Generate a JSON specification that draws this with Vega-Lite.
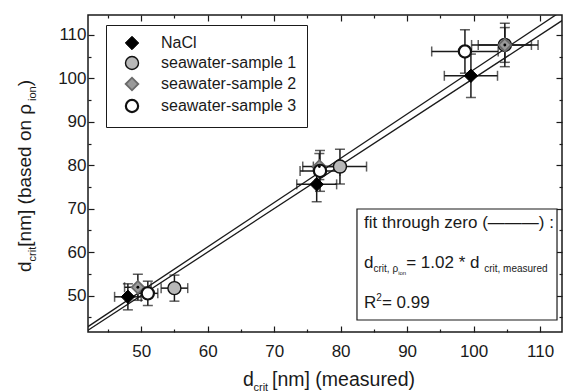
{
  "$schema": "https://vega.github.io/schema/vega-lite/v6.json",
  "autosize": {"type": "none"},
  "padding": {"left": 88, "top": 15, "right": 2, "bottom": 60},
  "width": 474,
  "height": 317,
  "datasets": {
    "pts": [
      {"series": "NaCl", "x": 48, "y": 49.7, "xlo": 46, "xhi": 50, "ylo": 46.7, "yhi": 52.7},
      {"series": "NaCl", "x": 76.4, "y": 75.6, "xlo": 73.4, "xhi": 79.4, "ylo": 71.6, "yhi": 79.6},
      {"series": "NaCl", "x": 99.6, "y": 100.6, "xlo": 95.6, "xhi": 103.6, "ylo": 95.6, "yhi": 105.6},
      {"series": "seawater-sample 1", "x": 55, "y": 51.7, "xlo": 53, "xhi": 57, "ylo": 48.7, "yhi": 54.7},
      {"series": "seawater-sample 1", "x": 79.9, "y": 79.7, "xlo": 75.9, "xhi": 83.9, "ylo": 75.7, "yhi": 83.7},
      {"series": "seawater-sample 1", "x": 104.7, "y": 107.7, "xlo": 99.7, "xhi": 109.7, "ylo": 102.7, "yhi": 112.7},
      {"series": "seawater-sample 2", "x": 49.5, "y": 51.9, "xlo": 47.5, "xhi": 51.5, "ylo": 48.9, "yhi": 54.9},
      {"series": "seawater-sample 2", "x": 76.8, "y": 79.7, "xlo": 74.3, "xhi": 79.3, "ylo": 76.7, "yhi": 82.7},
      {"series": "seawater-sample 2", "x": 104.7, "y": 107.7, "xlo": 100.7, "xhi": 108.7, "ylo": 103.7, "yhi": 111.7},
      {"series": "seawater-sample 3", "x": 51, "y": 50.5, "xlo": 49.5, "xhi": 52.5, "ylo": 47.7, "yhi": 53.3},
      {"series": "seawater-sample 3", "x": 76.9, "y": 78.7, "xlo": 73.9, "xhi": 79.9, "ylo": 74, "yhi": 83.4},
      {"series": "seawater-sample 3", "x": 98.7, "y": 106.2, "xlo": 93.7, "xhi": 103.7, "ylo": 101.2, "yhi": 111.2}
    ],
    "fits": [
      {"fit": "y = x", "x": 40, "y": 40},
      {"fit": "y = x", "x": 116, "y": 116},
      {"fit": "y = 1.02 x", "x": 40, "y": 40.8},
      {"fit": "y = 1.02 x", "x": 116, "y": 118.32}
    ]
  },
  "layer": [
    {
      "data": {"name": "fits"},
      "mark": {"type": "line", "clip": true, "color": "#1a1a1a", "strokeWidth": 1.3},
      "encoding": {
        "x": {"field": "x", "type": "quantitative", "scale": {"domain": [42, 113.3], "nice": false, "zero": false},
          "axis": {"orient": "top", "values": [45, 50, 55, 60, 65, 70, 75, 80, 85, 90, 95, 100, 105, 110], "labels": false, "title": null,
            "tickSize": {"condition": {"test": "datum.value % 10 === 0", "value": -6}, "value": -3}}},
        "y": {"field": "y", "type": "quantitative", "scale": {"domain": [41.6, 114.6], "nice": false, "zero": false},
          "axis": {"orient": "right", "values": [45, 50, 55, 60, 65, 70, 75, 80, 85, 90, 95, 100, 105, 110], "labels": false, "title": null,
            "tickSize": {"condition": {"test": "datum.value % 10 === 0", "value": -6}, "value": -3}}},
        "detail": {"field": "fit"}
      }
    },
    {
      "data": {"name": "pts"},
      "mark": {"type": "rule", "color": "#1a1a1a", "strokeWidth": 1.5},
      "encoding": {
        "x": {"field": "x", "type": "quantitative", "axis": null},
        "y": {"field": "ylo", "type": "quantitative", "axis": null},
        "y2": {"field": "yhi"}
      }
    },
    {
      "data": {"name": "pts"},
      "mark": {"type": "rule", "color": "#1a1a1a", "strokeWidth": 1.5},
      "encoding": {
        "y": {"field": "y", "type": "quantitative", "axis": null},
        "x": {"field": "xlo", "type": "quantitative", "axis": null},
        "x2": {"field": "xhi"}
      }
    },
    {
      "data": {"name": "pts"},
      "mark": {"type": "tick", "orient": "horizontal", "color": "#1a1a1a", "size": 10, "thickness": 1.5},
      "encoding": {
        "x": {"field": "x", "type": "quantitative", "axis": null},
        "y": {"field": "ylo", "type": "quantitative", "axis": null}
      }
    },
    {
      "data": {"name": "pts"},
      "mark": {"type": "tick", "orient": "horizontal", "color": "#1a1a1a", "size": 10, "thickness": 1.5},
      "encoding": {
        "x": {"field": "x", "type": "quantitative", "axis": null},
        "y": {"field": "yhi", "type": "quantitative", "axis": null}
      }
    },
    {
      "data": {"name": "pts"},
      "mark": {"type": "tick", "orient": "vertical", "color": "#1a1a1a", "size": 10, "thickness": 1.5},
      "encoding": {
        "x": {"field": "xlo", "type": "quantitative", "axis": null},
        "y": {"field": "y", "type": "quantitative", "axis": null}
      }
    },
    {
      "data": {"name": "pts"},
      "mark": {"type": "tick", "orient": "vertical", "color": "#1a1a1a", "size": 10, "thickness": 1.5},
      "encoding": {
        "x": {"field": "xhi", "type": "quantitative", "axis": null},
        "y": {"field": "y", "type": "quantitative", "axis": null}
      }
    },
    {
      "data": {"name": "pts"},
      "mark": {"type": "point", "filled": true, "opacity": 1},
      "encoding": {
        "x": {"field": "x", "type": "quantitative",
          "axis": {"orient": "bottom", "values": [45, 50, 55, 60, 65, 70, 75, 80, 85, 90, 95, 100, 105, 110], "title": null,
            "labelExpr": "datum.value % 10 === 0 ? datum.label : ''", "labelOverlap": false, "labelPadding": 17,
            "tickSize": {"condition": {"test": "datum.value % 10 === 0", "value": -6}, "value": -3}}},
        "y": {"field": "y", "type": "quantitative",
          "axis": {"orient": "left", "values": [45, 50, 55, 60, 65, 70, 75, 80, 85, 90, 95, 100, 105, 110], "title": null,
            "labelExpr": "datum.value % 10 === 0 ? datum.label : ''", "labelOverlap": false, "labelPadding": 8,
            "tickSize": {"condition": {"test": "datum.value % 10 === 0", "value": -6}, "value": -3}}},
        "color": {"field": "series", "type": "nominal",
          "scale": {"domain": ["NaCl", "seawater-sample 1", "seawater-sample 2", "seawater-sample 3"], "range": ["#000000", "#b8b8b8", "#9a9a9a", "#ffffff"]},
          "legend": {"orient": "none", "legendX": 18, "legendY": 10, "title": null,
            "encode": {"symbols": {"enter": {"size": {"signal": "datum.value === 'NaCl' ? 170 : datum.value === 'seawater-sample 2' ? 95 : 55"}}, "update": {"size": {"signal": "datum.value === 'NaCl' ? 170 : datum.value === 'seawater-sample 2' ? 95 : 55"}}}}}},
        "shape": {"field": "series", "type": "nominal",
          "scale": {"domain": ["NaCl", "seawater-sample 1", "seawater-sample 2", "seawater-sample 3"], "range": ["diamond", "circle", "diamond", "circle"]},
          "legend": {"orient": "none", "legendX": 18, "legendY": 10, "title": null,
            "encode": {"symbols": {"enter": {"size": {"signal": "datum.value === 'NaCl' ? 170 : datum.value === 'seawater-sample 2' ? 95 : 55"}}, "update": {"size": {"signal": "datum.value === 'NaCl' ? 170 : datum.value === 'seawater-sample 2' ? 95 : 55"}}}}}},
        "stroke": {"field": "series", "type": "nominal",
          "scale": {"domain": ["NaCl", "seawater-sample 1", "seawater-sample 2", "seawater-sample 3"], "range": ["#000000", "#111111", "#6a6a6a", "#111111"]},
          "legend": {"orient": "none", "legendX": 18, "legendY": 10, "title": null,
            "encode": {"symbols": {"enter": {"size": {"signal": "datum.value === 'NaCl' ? 170 : datum.value === 'seawater-sample 2' ? 95 : 55"}}, "update": {"size": {"signal": "datum.value === 'NaCl' ? 170 : datum.value === 'seawater-sample 2' ? 95 : 55"}}}}}},
        "size": {"field": "series", "type": "nominal", "legend": null,
          "scale": {"domain": ["NaCl", "seawater-sample 1", "seawater-sample 2", "seawater-sample 3"], "range": [180, 150, 75, 75]}},
        "strokeWidth": {"field": "series", "type": "nominal", "legend": null,
          "scale": {"domain": ["NaCl", "seawater-sample 1", "seawater-sample 2", "seawater-sample 3"], "range": [1, 2.2, 1, 1.5]}}
      }
    },
    {
      "data": {"name": "pts"},
      "transform": [{"filter": "datum.series === 'seawater-sample 2'"}],
      "mark": {"type": "point", "filled": true, "opacity": 1, "shape": "circle", "size": 8, "color": "#000000"},
      "encoding": {
        "x": {"field": "x", "type": "quantitative", "axis": null},
        "y": {"field": "y", "type": "quantitative", "axis": null}
      }
    },
    {
      "data": {"values": [{"x": 82.46, "x2": 112.55, "y": 44.36, "y2": 69.93}]},
      "mark": {"type": "rect", "fill": "#ffffff", "stroke": "#1a1a1a", "strokeWidth": 1.2},
      "encoding": {
        "x": {"field": "x", "type": "quantitative", "axis": null},
        "x2": {"field": "x2"},
        "y": {"field": "y", "type": "quantitative", "axis": null},
        "y2": {"field": "y2"}
      }
    },
    {
      "data": {"values": [
        {"t": "d", "x": 65.32, "y": 29.16},
        {"t": "[nm] (measured)", "x": 69.68, "y": 29.16}
      ]},
      "mark": {"type": "text", "align": "left", "baseline": "alphabetic", "font": "Liberation Sans", "fontSize": 19.5, "color": "#1a1a1a"},
      "encoding": {"x": {"field": "x", "type": "quantitative", "axis": null}, "y": {"field": "y", "type": "quantitative", "axis": null}, "text": {"field": "t"}}
    },
    {
      "data": {"values": [{"t": "crit", "x": 66.89, "y": 28.01}]},
      "mark": {"type": "text", "align": "left", "baseline": "alphabetic", "font": "Liberation Sans", "fontSize": 11, "color": "#1a1a1a"},
      "encoding": {"x": {"field": "x", "type": "quantitative", "axis": null}, "y": {"field": "y", "type": "quantitative", "axis": null}, "text": {"field": "t"}}
    },
    {
      "data": {"values": [
        {"t": "d", "x": 33.43, "y": 55.42},
        {"t": " [nm] (based on ρ", "x": 33.43, "y": 61.25},
        {"t": ")", "x": 33.43, "y": 98.2}
      ]},
      "mark": {"type": "text", "align": "left", "baseline": "alphabetic", "angle": 270, "font": "Liberation Sans", "fontSize": 19, "color": "#1a1a1a"},
      "encoding": {"x": {"field": "x", "type": "quantitative", "axis": null}, "y": {"field": "y", "type": "quantitative", "axis": null}, "text": {"field": "t"}}
    },
    {
      "data": {"values": [
        {"t": "crit", "x": 34.18, "y": 57.86},
        {"t": "ion", "x": 34.18, "y": 94.8}
      ]},
      "mark": {"type": "text", "align": "left", "baseline": "alphabetic", "angle": 270, "font": "Liberation Sans", "fontSize": 11, "color": "#1a1a1a"},
      "encoding": {"x": {"field": "x", "type": "quantitative", "axis": null}, "y": {"field": "y", "type": "quantitative", "axis": null}, "text": {"field": "t"}}
    },
    {
      "data": {"values": [
        {"t": "fit through zero (———) :", "x": 83.52, "y": 65.55},
        {"t": "d", "x": 83.52, "y": 56.34},
        {"t": " = 1.02 * d", "x": 89.86, "y": 56.34},
        {"t": "R", "x": 83.52, "y": 47.13},
        {"t": " = 0.99", "x": 86.21, "y": 47.13}
      ]},
      "mark": {"type": "text", "align": "left", "baseline": "alphabetic", "font": "Liberation Sans", "fontSize": 17, "color": "#1a1a1a"},
      "encoding": {"x": {"field": "x", "type": "quantitative", "axis": null}, "y": {"field": "y", "type": "quantitative", "axis": null}, "text": {"field": "t"}}
    },
    {
      "data": {"values": [
        {"t": "crit, ρ", "x": 84.95, "y": 55.42},
        {"t": "crit, measured", "x": 101.6, "y": 55.42},
        {"t": "2", "x": 85.37, "y": 48.74}
      ]},
      "mark": {"type": "text", "align": "left", "baseline": "alphabetic", "font": "Liberation Sans", "fontSize": 10, "color": "#1a1a1a"},
      "encoding": {"x": {"field": "x", "type": "quantitative", "axis": null}, "y": {"field": "y", "type": "quantitative", "axis": null}, "text": {"field": "t"}}
    },
    {
      "data": {"values": [{"t": "ion", "x": 88.66, "y": 54.73}]},
      "mark": {"type": "text", "align": "left", "baseline": "alphabetic", "font": "Liberation Sans", "fontSize": 6, "color": "#1a1a1a"},
      "encoding": {"x": {"field": "x", "type": "quantitative", "axis": null}, "y": {"field": "y", "type": "quantitative", "axis": null}, "text": {"field": "t"}}
    }
  ],
  "resolve": {"axis": {"x": "independent", "y": "independent"}},
  "config": {
    "font": "Liberation Sans",
    "view": {"stroke": "#1a1a1a", "strokeWidth": 1.5},
    "axis": {"grid": false, "domain": false, "labelFont": "Liberation Sans", "labelFontSize": 17, "labelColor": "#1a1a1a", "tickColor": "#1a1a1a", "tickWidth": 1.2},
    "legend": {"padding": 10, "rowPadding": 1,
      "labelFont": "Liberation Sans", "labelFontSize": 16, "labelColor": "#1a1a1a", "labelOffset": 21,
      "strokeColor": "#1a1a1a", "fillColor": "#ffffff", "symbolSize": 150, "symbolStrokeWidth": 1.5, "symbolOffset": 8}
  }
}
